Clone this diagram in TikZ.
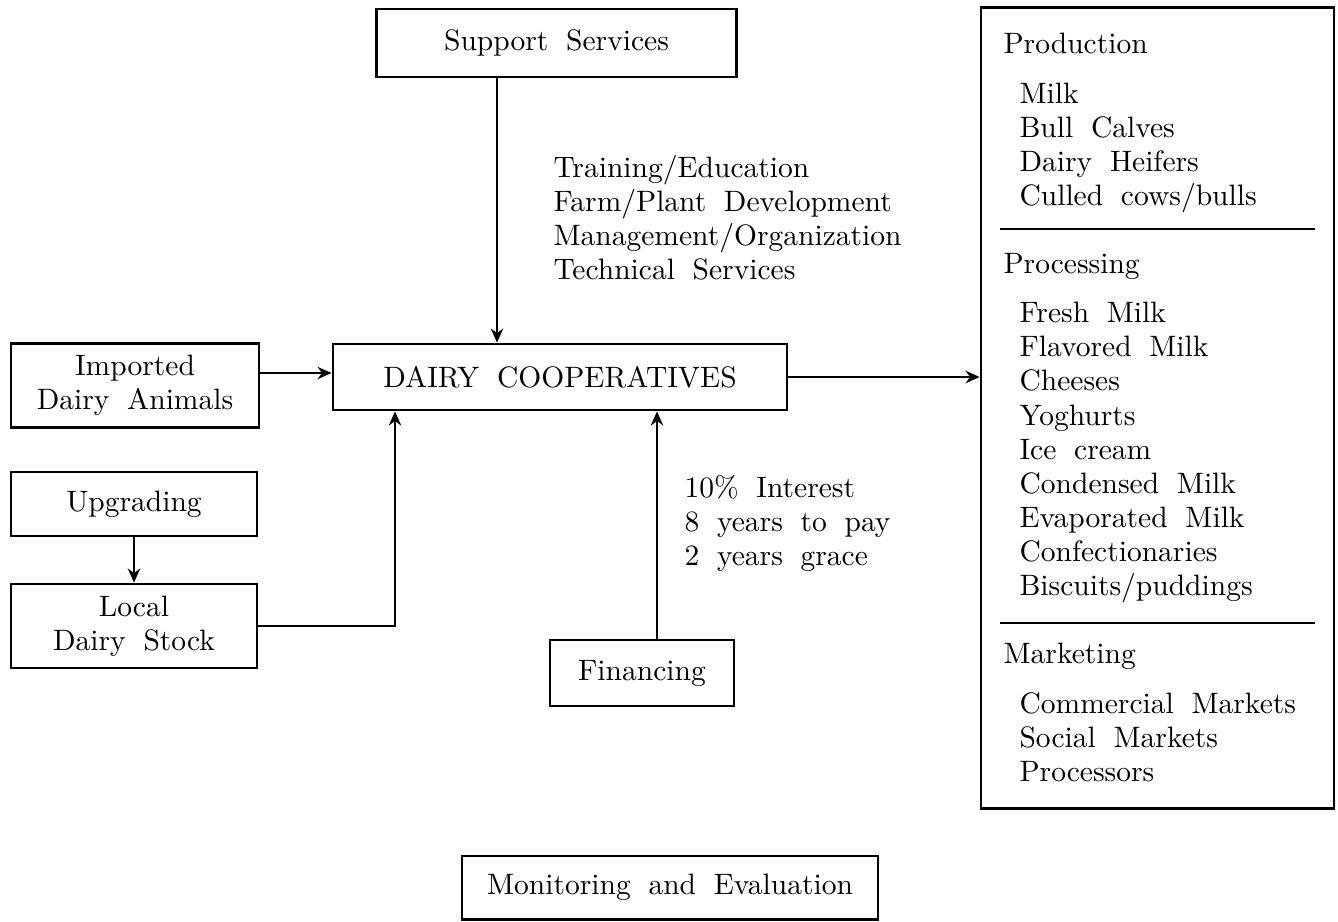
\documentclass[tikz,border=0pt]{standalone}
\usepackage{tikz}
\usetikzlibrary{positioning, arrows.meta}
\newcommand{\widesp}{\spaceskip=0.6em plus 0.1em\relax}
\tikzstyle{bx}=[draw, line width=1pt, inner sep=0pt, align=center]
\tikzstyle{lst}=[inner sep=0pt, align=left, anchor=base west]
\tikzstyle{arr}=[->, line width=0.9pt]
\tikzset{>={Stealth[length=5pt, width=4.4pt]}}

\begin{document}
\begin{tikzpicture}[x=0.0125cm, y=-0.0125cm, font={\fontsize{10.5}{12.09}\selectfont\widesp}]
\useasboundingbox (0,0) rectangle (1338,921);

\node[bx, minimum width=4.49cm, minimum height=0.85cm] (SS) at (556.5,43) {Support Services};
\node[bx, minimum width=5.675cm, minimum height=0.825cm] (DC) at (560,377) {DAIRY COOPERATIVES};
\node[bx, minimum width=3.1cm, minimum height=1.04cm] (IA) at (135,385.5) {Imported\\Dairy Animals};
\node[bx, minimum width=3.075cm, minimum height=0.8cm] (UP) at (134,504) {Upgrading};
\node[bx, minimum width=3.075cm, minimum height=1.05cm] (LS) at (134,626) {Local\\Dairy Stock};
\node[bx, minimum width=2.3cm, minimum height=0.825cm] (FI) at (642,673) {Financing};
\node[bx, minimum width=5.2cm, minimum height=0.79cm] (ME) at (670,887.5) {Monitoring and Evaluation};
\node[bx, minimum width=4.41cm, minimum height=10cm] (OUT) at (1157.5,408) {};

% lists sit on the baseline of their last line
\node[lst] (TR) at (553,279) {Training/Education\\Farm/Plant Development\\Management/Organization\\Technical Services};
\node[lst] (FT) at (684,565) {10\% Interest\\8 years to pay\\2 years grace};

%% right hand column
\node[lst] (PD) at (1003,53) {Production};
\node[lst] (PDi) at (1019,205) {Milk\\Bull Calves\\Dairy Heifers\\Culled cows/bulls};
\node[lst] (PR) at (1003,273) {Processing};
\node[lst] (PRi) at (1019,595) {Fresh Milk\\Flavored Milk\\Cheeses\\Yoghurts\\Ice cream\\Condensed Milk\\Evaporated Milk\\Confectionaries\\Biscuits/puddings};
\node[lst] (MK) at (1003,663) {Marketing};
\node[lst] (MKi) at (1019,781) {Commercial Markets\\Social Markets\\Processors};
\draw[line width=1pt] (1000,229) -- (1315,229);
\draw[line width=1pt] (1000,623) -- (1315,623);

\coordinate (sx) at (497,0);
\coordinate (lx) at (395,0);
\coordinate (fx) at (657,0);
\coordinate (ay) at (0,373);
\draw[arr] (SS.south -| sx) -- (DC.north -| sx);
\draw[arr] (IA.east |- ay) -- (DC.west |- ay);
\draw[arr] (UP) -- (LS);
\draw[arr] (LS.east) -| (DC.south -| lx);
\draw[arr] (FI.north -| fx) -- (DC.south -| fx);
\draw[arr] (DC.east) -- (DC.east -| OUT.west);
\end{tikzpicture}
\end{document}
